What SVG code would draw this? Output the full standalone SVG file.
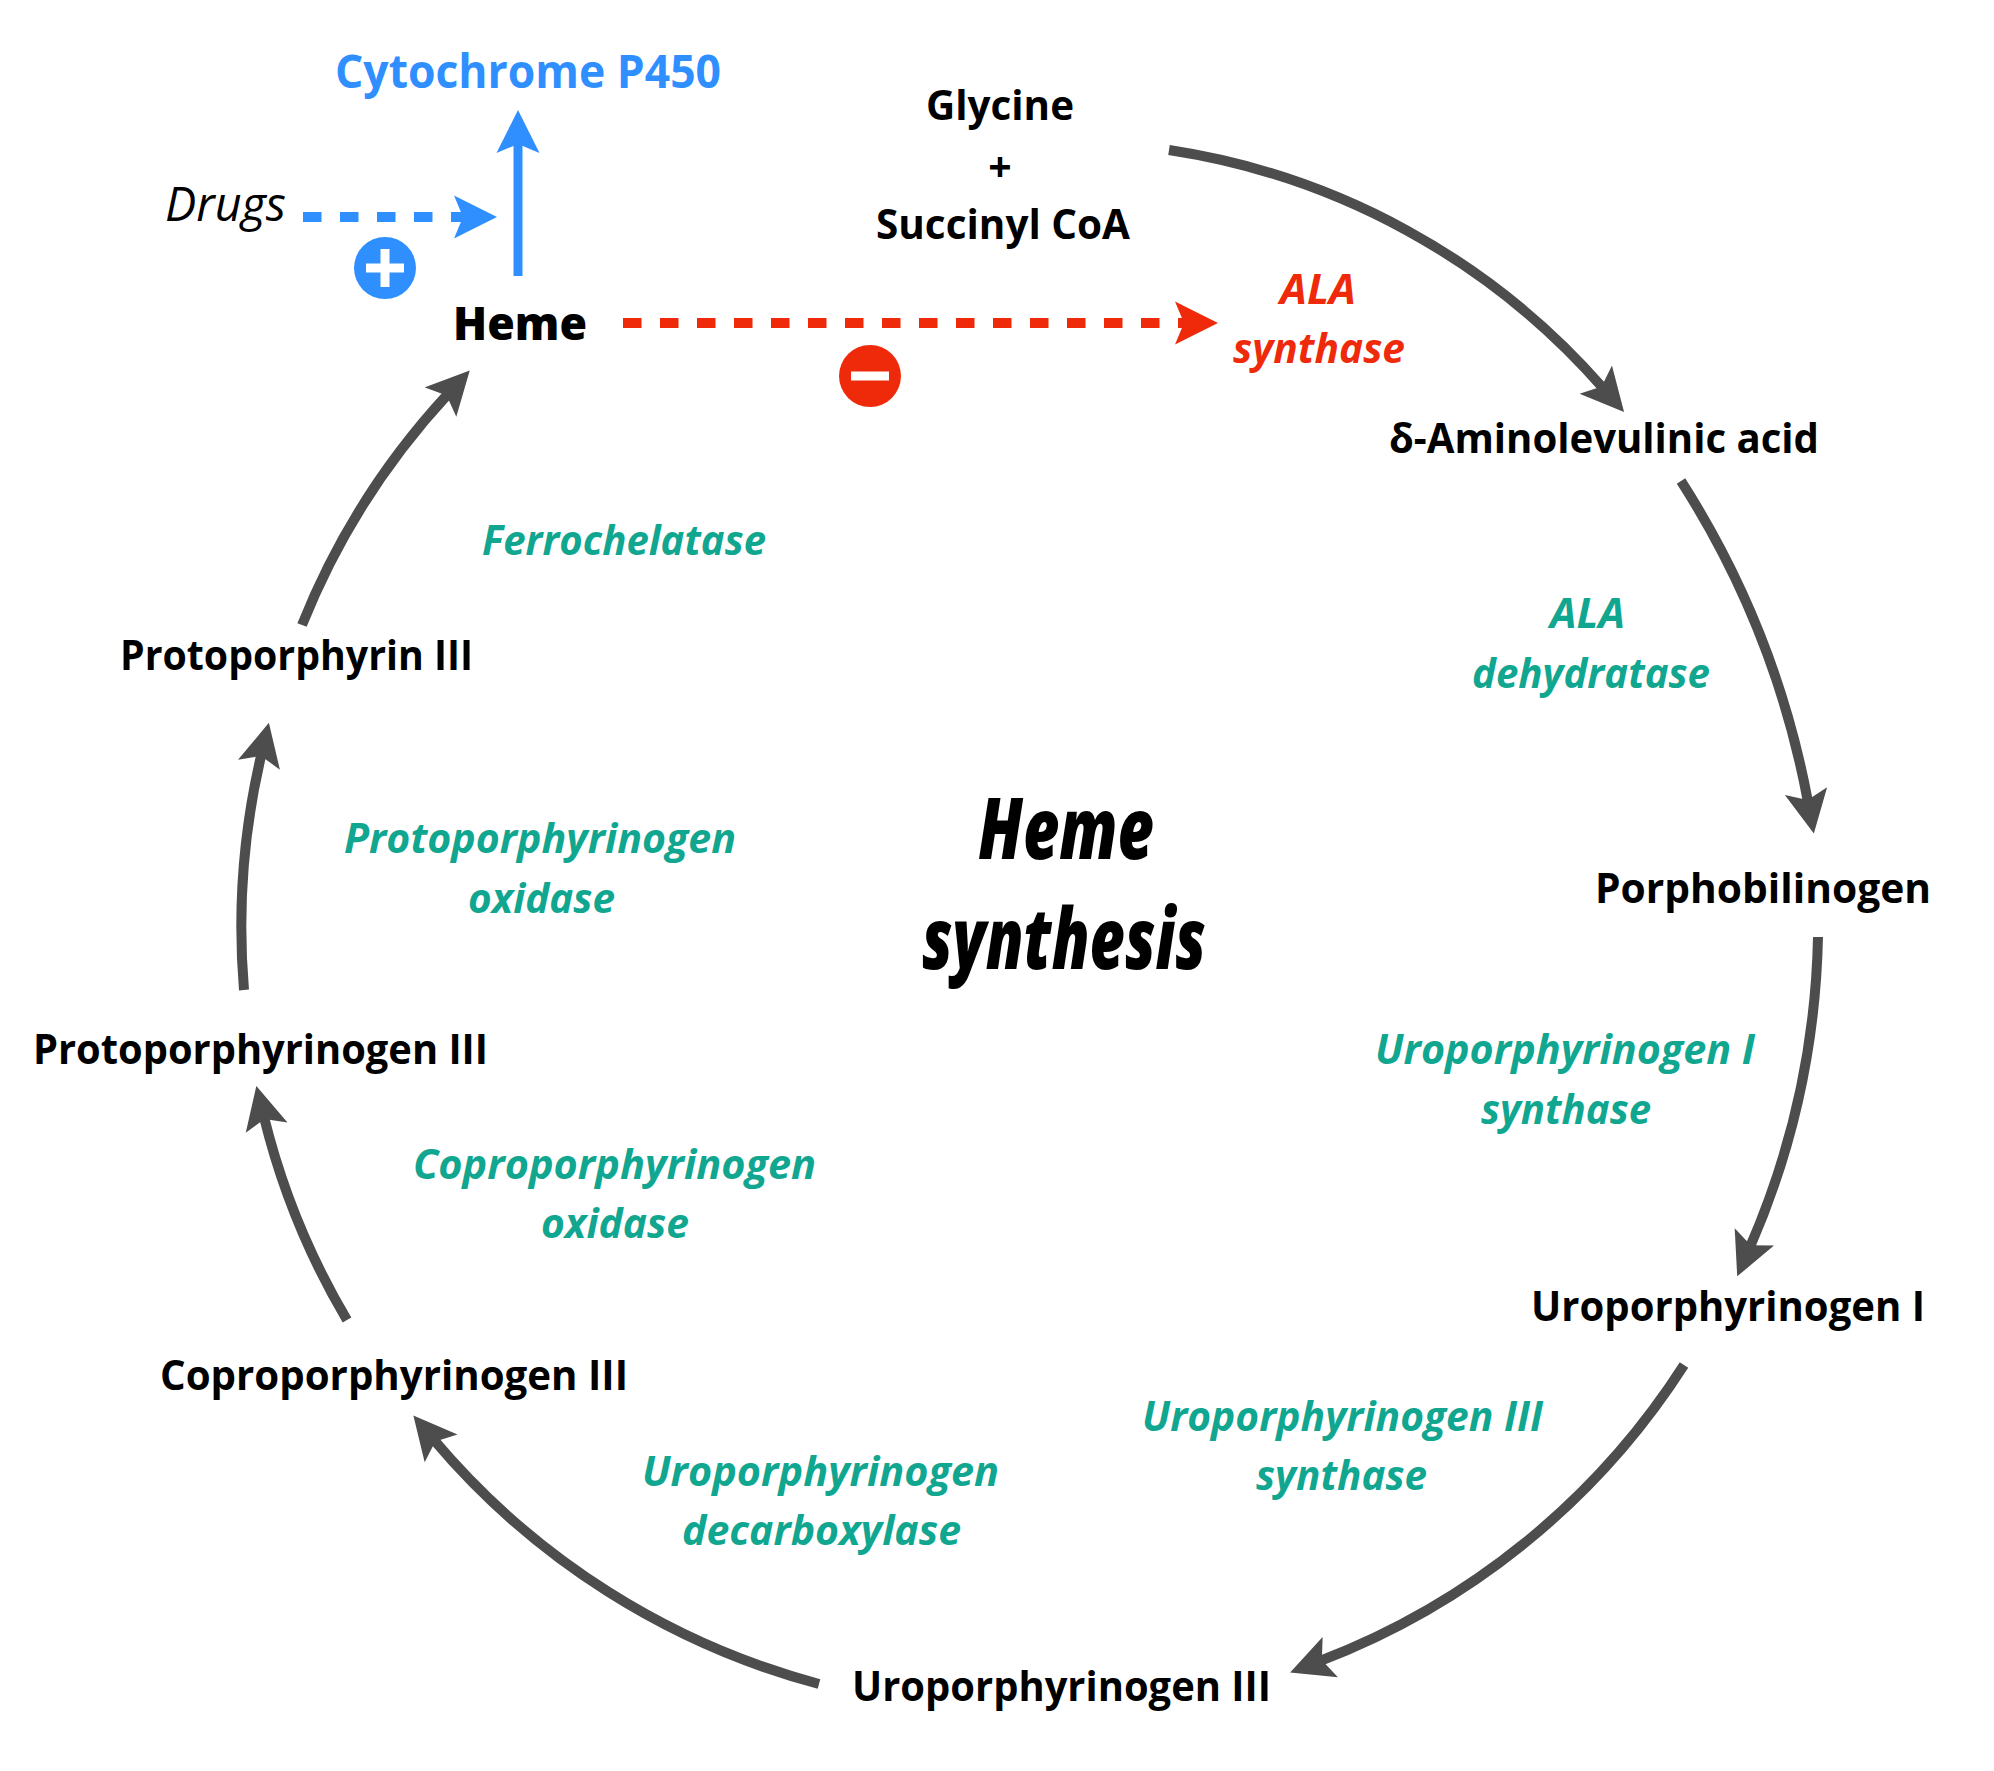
<svg xmlns="http://www.w3.org/2000/svg" width="1994" height="1771" viewBox="0 0 1994 1771">
<style>
text{font-family:"Open Sans","Noto Sans",sans-serif}
.n{font-size:41px;font-weight:700;fill:#000}
.e{font-size:41px;font-weight:700;font-style:italic;fill:#10a68f}
.r{font-size:41px;font-weight:700;font-style:italic;fill:#ee2a0b}
.t{font-size:85px;font-weight:800;font-style:italic;fill:#000}
.c{fill:none;stroke:#4d4d4d;stroke-width:10}
</style>
<defs>
<marker id="ag" markerUnits="userSpaceOnUse" markerWidth="44" markerHeight="44" refX="11" refY="22" orient="auto"><path d="M0,.5L43,22L0,43.5L9,22Z" fill="#4d4d4d"/></marker>
<marker id="ab" markerUnits="userSpaceOnUse" markerWidth="44" markerHeight="44" refX="11" refY="22" orient="auto"><path d="M0,.5L43,22L0,43.5L9,22Z" fill="#2f8fff"/></marker>
<marker id="ar" markerUnits="userSpaceOnUse" markerWidth="44" markerHeight="44" refX="11" refY="22" orient="auto"><path d="M0,.5L43,22L0,43.5L9,22Z" fill="#ee2a0b"/></marker>
</defs>
<rect width="1994" height="1771" fill="#fff"/>
<g id="connectors">
<path class="c" marker-end="url(#ag)" d="M1169,150A720,720 0 0 1 1603,388"/>
<path class="c" marker-end="url(#ag)" d="M1681,481A900,900 0 0 1 1808,802"/>
<path class="c" marker-end="url(#ag)" d="M1818,937A820,820 0 0 1 1750,1247"/>
<path class="c" marker-end="url(#ag)" d="M1684,1365A750,750 0 0 1 1320,1661"/>
<path class="c" marker-end="url(#ag)" d="M819,1684A760,760 0 0 1 434,1440"/>
<path class="c" marker-end="url(#ag)" d="M347,1320A750,750 0 0 1 264,1117"/>
<path class="c" marker-end="url(#ag)" d="M244,990A750,750 0 0 1 261.500,754"/>
<path class="c" marker-end="url(#ag)" d="M302,625A750,750 0 0 1 448,394"/>
<path fill="none" stroke="#2f8fff" stroke-width="9" marker-end="url(#ab)" d="M518,276V142"/>
<path fill="none" stroke="#2f8fff" stroke-width="10" stroke-dasharray="18.500 18.500" marker-end="url(#ab)" d="M303,217H465"/>
<path fill="none" stroke="#ee2a0b" stroke-width="10" stroke-dasharray="18.500 18.500" marker-end="url(#ar)" d="M623,323H1186"/>
</g>
<g id="cytochrome"><text x="335" y="88" class="n" style="font-size:46px;fill:#2f8fff" textLength="386" lengthAdjust="spacingAndGlyphs">Cytochrome P450</text></g>
<g id="drugs"><text x="165" y="221" style="font-size:47px;font-style:italic;font-weight:400;fill:#000" textLength="121" lengthAdjust="spacingAndGlyphs">Drugs</text></g>
<g id="plus"><circle cx="385" cy="268" r="31" fill="#2f8fff"/><path d="M366,268H404M385,249V287" stroke="#fff" stroke-width="9" fill="none"/></g>
<g id="minus"><circle cx="870" cy="376" r="31" fill="#ee2a0b"/><path d="M851,376H889" stroke="#fff" stroke-width="9" fill="none"/></g>
<g id="heme"><text x="453" y="340" class="n" style="font-size:46px;font-weight:800" textLength="134" lengthAdjust="spacingAndGlyphs">Heme</text></g>
<g id="glycine">
<text x="926" y="120" class="n" textLength="148" lengthAdjust="spacingAndGlyphs">Glycine</text>
<text x="1000" y="182" class="n" text-anchor="middle">+</text>
<text x="876" y="239" class="n" textLength="254" lengthAdjust="spacingAndGlyphs">Succinyl CoA</text></g>
<g id="ala-synthase">
<text x="1280" y="304" class="r" textLength="76" lengthAdjust="spacingAndGlyphs">ALA</text>
<text x="1233" y="363" class="r" textLength="172" lengthAdjust="spacingAndGlyphs">synthase</text></g>
<g id="ala"><text x="1389" y="453" class="n" textLength="430" lengthAdjust="spacingAndGlyphs">δ-Aminolevulinic acid</text></g>
<g id="ala-dehydratase">
<text x="1550" y="628" class="e" textLength="75" lengthAdjust="spacingAndGlyphs">ALA</text>
<text x="1472" y="688" class="e" textLength="238" lengthAdjust="spacingAndGlyphs">dehydratase</text></g>
<g id="porphobilinogen"><text x="1595" y="903" class="n" textLength="336" lengthAdjust="spacingAndGlyphs">Porphobilinogen</text></g>
<g id="uro1-synthase">
<text x="1375" y="1064" class="e" textLength="380" lengthAdjust="spacingAndGlyphs">Uroporphyrinogen I</text>
<text x="1481" y="1124" class="e" textLength="170" lengthAdjust="spacingAndGlyphs">synthase</text></g>
<g id="uro1"><text x="1531" y="1321" class="n" textLength="394" lengthAdjust="spacingAndGlyphs">Uroporphyrinogen I</text></g>
<g id="uro3-synthase">
<text x="1142" y="1431" class="e" textLength="401" lengthAdjust="spacingAndGlyphs">Uroporphyrinogen III</text>
<text x="1256" y="1490" class="e" textLength="171" lengthAdjust="spacingAndGlyphs">synthase</text></g>
<g id="uro3"><text x="852" y="1701" class="n" textLength="419" lengthAdjust="spacingAndGlyphs">Uroporphyrinogen III</text></g>
<g id="uro-decarboxylase">
<text x="642" y="1486" class="e" textLength="357" lengthAdjust="spacingAndGlyphs">Uroporphyrinogen</text>
<text x="682" y="1545" class="e" textLength="279" lengthAdjust="spacingAndGlyphs">decarboxylase</text></g>
<g id="copro3"><text x="160" y="1390" class="n" textLength="468" lengthAdjust="spacingAndGlyphs">Coproporphyrinogen III</text></g>
<g id="copro-oxidase">
<text x="413" y="1179" class="e" textLength="403" lengthAdjust="spacingAndGlyphs">Coproporphyrinogen</text>
<text x="541" y="1238" class="e" textLength="148" lengthAdjust="spacingAndGlyphs">oxidase</text></g>
<g id="proto3gen"><text x="33" y="1064" class="n" textLength="455" lengthAdjust="spacingAndGlyphs">Protoporphyrinogen III</text></g>
<g id="proto-oxidase">
<text x="344" y="853" class="e" textLength="392" lengthAdjust="spacingAndGlyphs">Protoporphyrinogen</text>
<text x="468" y="913" class="e" textLength="147" lengthAdjust="spacingAndGlyphs">oxidase</text></g>
<g id="proto3"><text x="120" y="670" class="n" textLength="353" lengthAdjust="spacingAndGlyphs">Protoporphyrin III</text></g>
<g id="ferrochelatase"><text x="482" y="555" class="e" textLength="284" lengthAdjust="spacingAndGlyphs">Ferrochelatase</text></g>
<g id="title">
<text x="978" y="859" class="t" textLength="176" lengthAdjust="spacingAndGlyphs">Heme</text>
<text x="922" y="969" class="t" textLength="284" lengthAdjust="spacingAndGlyphs">synthesis</text></g>
</svg>
